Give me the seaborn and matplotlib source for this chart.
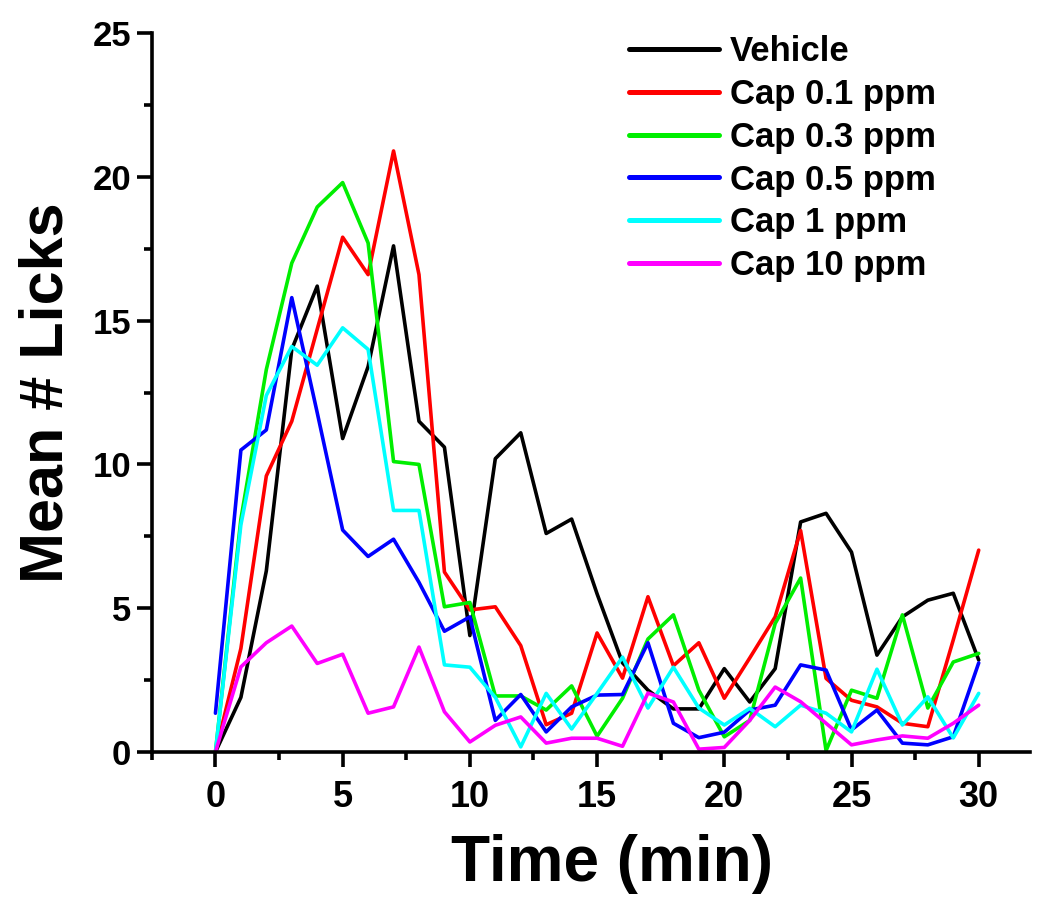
import numpy as np
import pandas as pd
import matplotlib
matplotlib.use("Agg")
import matplotlib.pyplot as plt
import seaborn as sns
from matplotlib.ticker import MultipleLocator

time_min = list(range(0, 31))

vehicle = [0, 1.9, 6.3, 14.0, 16.2, 10.9, 13.4, 17.6, 11.5, 10.6, 4.05,
           10.2, 11.1, 7.6, 8.1, 5.5, 3.1, 2.15, 1.5, 1.5, 2.9,
           1.74, 2.9, 8.0, 8.3, 6.95, 3.37, 4.7, 5.28, 5.52, 3.2]
cap01 = [0, 3.6, 9.6, 11.5, 14.7, 17.9, 16.6, 20.9, 16.6, 6.26, 4.94,
         5.05, 3.7, 0.95, 1.35, 4.14, 2.57, 5.4, 3.0, 3.8, 1.87,
         3.27, 4.7, 7.7, 2.56, 1.8, 1.57, 1.0, 0.88, 3.9, 7.02]
cap03 = [0, 8.1, 13.3, 17.0, 18.95, 19.8, 17.7, 10.1, 10.0, 5.05, 5.2,
         1.95, 1.95, 1.46, 2.3, 0.55, 1.87, 3.93, 4.77, 2.15, 0.53,
         1.1, 4.47, 6.05, 0.05, 2.15, 1.87, 4.77, 1.53, 3.13, 3.43]
cap05 = [1.35, 10.5, 11.2, 15.8, 11.8, 7.72, 6.8, 7.4, 5.9, 4.2, 4.7,
         1.1, 2.0, 0.7, 1.57, 1.98, 2.0, 3.8, 1.0, 0.5, 0.69,
         1.46, 1.63, 3.03, 2.85, 0.77, 1.46, 0.31, 0.25, 0.53, 3.1]
cap1 = [0, 7.9, 12.4, 14.1, 13.45, 14.75, 14.0, 8.4, 8.4, 3.03, 2.95,
        1.9, 0.18, 2.04, 0.8, 2.04, 3.3, 1.53, 2.95, 1.53, 0.94,
        1.52, 0.88, 1.63, 1.35, 0.7, 2.88, 0.94, 1.92, 0.49, 2.04]
cap10 = [0, 2.96, 3.8, 4.38, 3.08, 3.4, 1.35, 1.57, 3.65, 1.4, 0.35,
         0.93, 1.22, 0.31, 0.48, 0.48, 0.2, 2.05, 1.74, 0.1, 0.16,
         1.1, 2.26, 1.75, 1.0, 0.25, 0.42, 0.56, 0.48, 1.0, 1.63]

series_names = ["Vehicle", "Cap 0.1 ppm", "Cap 0.3 ppm", "Cap 0.5 ppm",
                "Cap 1 ppm", "Cap 10 ppm"]
series_values = [vehicle, cap01, cap03, cap05, cap1, cap10]
colors = ["#000000", "#ff0000", "#00ee00", "#0000ff", "#00ffff", "#ff00ff"]

df = pd.DataFrame({
    "Time": np.tile(time_min, len(series_names)),
    "Licks": np.concatenate(series_values),
    "Group": np.repeat(series_names, len(time_min)),
})

sns.set_style("ticks")
plt.rcParams["font.family"] = ["Liberation Sans", "DejaVu Sans"]
plt.rcParams["font.weight"] = "bold"
for key in ["text.color", "axes.labelcolor", "xtick.color", "ytick.color",
            "axes.edgecolor"]:
    plt.rcParams[key] = "black"

fig = plt.figure(figsize=(10.4, 9), dpi=100)
ax = fig.add_axes([0.146, 0.1644, 0.844, 0.7989])

sns.lineplot(data=df, x="Time", y="Licks", hue="Group",
             hue_order=series_names, palette=dict(zip(series_names, colors)),
             linewidth=2.6, ax=ax, legend=True)

ax.set_xlim(-2.5, 32)
ax.set_ylim(0, 25)
ax.xaxis.set_major_locator(MultipleLocator(5))
ax.xaxis.set_minor_locator(MultipleLocator(2.5))
ax.yaxis.set_major_locator(MultipleLocator(5))
ax.yaxis.set_minor_locator(MultipleLocator(2.5))

for s in ["top", "right"]:
    ax.spines[s].set_visible(False)
for s in ["left", "bottom"]:
    ax.spines[s].set_linewidth(2.6)
    ax.spines[s].set_color("black")

ax.tick_params(which="major", length=11, width=2.6, colors="black",
               direction="out")
ax.tick_params(which="minor", length=6, width=2.6, direction="out")
ax.tick_params(axis="x", which="major", labelsize=26, pad=9)
ax.tick_params(axis="y", which="major", labelsize=25, pad=4)
for lab in ax.get_xticklabels() + ax.get_yticklabels():
    lab.set_fontweight("bold")

ax.set_xlabel("Time (min)", fontsize=46, fontweight="bold", labelpad=14)
ax.set_ylabel("Mean # Licks", fontsize=44, fontweight="bold", labelpad=12)
ax.xaxis.label.set_x(0.524)

leg = ax.legend(loc="upper left", bbox_to_anchor=(0.528, 1.016), frameon=False,
                fontsize=25, handlelength=2.6, handletextpad=0.3,
                labelspacing=0.28, borderaxespad=0)
for line in leg.get_lines():
    line.set_linewidth(3.6)
for t in leg.get_texts():
    t.set_fontweight("bold")

fig.savefig("out.png", dpi=100)
